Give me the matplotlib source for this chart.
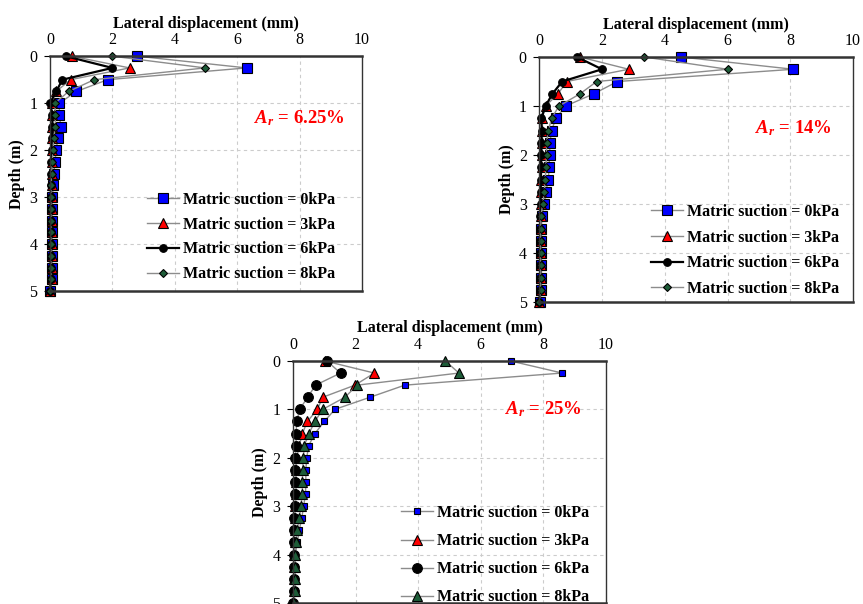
import matplotlib
matplotlib.use("Agg")
import matplotlib.pyplot as plt

plt.rcParams["font.family"] = ["Liberation Serif", "DejaVu Serif"]
plt.rcParams["mathtext.fontset"] = "custom"
plt.rcParams["mathtext.it"] = "Liberation Serif:italic:bold"
plt.rcParams["mathtext.rm"] = "Liberation Serif:bold"

# depth below surface (m)
depth = [0, 0.25, 0.5, 0.75, 1.0, 1.25, 1.5, 1.75, 2.0, 2.25, 2.5,
         2.75, 3.0, 3.25, 3.5, 3.75, 4.0, 4.25, 4.5, 4.75, 5.0]

labels = ["Matric suction = 0kPa", "Matric suction = 3kPa",
          "Matric suction = 6kPa", "Matric suction = 8kPa"]

# Ar = 6.25 %
ar625_0 = [2.8, 6.3, 1.85, 0.85, 0.3, 0.3, 0.35, 0.25, 0.2, 0.16, 0.12,
           0.1, 0.08, 0.07, 0.07, 0.07, 0.07, 0.07, 0.07, 0.07, 0.0]
ar625_3 = [0.7, 2.55, 0.66, 0.2, 0.05, 0.05, 0.05, 0.05, 0.05, 0.05, 0.05,
           0.05, 0.05, 0.05, 0.05, 0.05, 0.05, 0.05, 0.05, 0.05, 0.0]
ar625_6 = [0.5, 2.0, 0.4, 0.2, 0.0, 0.08, 0.08, 0.06, 0.05, 0.04, 0.03,
           0.03, 0.03, 0.02, 0.02, 0.02, 0.02, 0.02, 0.02, 0.02, 0.0]
ar625_8 = [2.0, 4.97, 1.42, 0.6, 0.16, 0.17, 0.17, 0.12, 0.1, 0.07, 0.05,
           0.04, 0.03, 0.03, 0.03, 0.03, 0.03, 0.03, 0.03, 0.03, 0.0]

# Ar = 14 %
ar14_0 = [4.52, 8.1, 2.49, 1.74, 0.84, 0.53, 0.39, 0.34, 0.33, 0.31, 0.29,
          0.21, 0.16, 0.08, 0.07, 0.07, 0.07, 0.07, 0.07, 0.07, 0.02]
ar14_3 = [1.3, 2.85, 0.87, 0.6, 0.2, 0.1, 0.1, 0.1, 0.08, 0.08, 0.07,
          0.06, 0.05, 0.04, 0.04, 0.04, 0.04, 0.04, 0.04, 0.04, 0.0]
ar14_6 = [1.2, 2.0, 0.73, 0.42, 0.2, 0.06, 0.08, 0.06, 0.06, 0.05, 0.05,
          0.04, 0.04, 0.03, 0.03, 0.03, 0.03, 0.03, 0.03, 0.03, 0.0]
ar14_8 = [3.35, 6.0, 1.83, 1.3, 0.63, 0.39, 0.29, 0.23, 0.23, 0.21, 0.19,
          0.16, 0.11, 0.05, 0.04, 0.04, 0.04, 0.04, 0.04, 0.04, 0.0]

# Ar = 25 %
ar25_0 = [6.95, 8.6, 3.57, 2.46, 1.34, 1.0, 0.7, 0.5, 0.44, 0.41, 0.41,
          0.4, 0.34, 0.28, 0.2, 0.14, 0.07, 0.07, 0.06, 0.06, 0.0]
ar25_3 = [1.02, 2.6, 1.98, 0.95, 0.78, 0.46, 0.3, 0.2, 0.12, 0.1, 0.1,
          0.1, 0.08, 0.06, 0.05, 0.05, 0.04, 0.04, 0.04, 0.04, 0.0]
ar25_6 = [1.08, 1.52, 0.72, 0.47, 0.21, 0.12, 0.1, 0.1, 0.08, 0.07, 0.07,
          0.07, 0.07, 0.03, 0.03, 0.03, 0.03, 0.03, 0.03, 0.03, 0.0]
ar25_8 = [4.87, 5.3, 2.05, 1.66, 0.95, 0.7, 0.51, 0.36, 0.33, 0.31, 0.3,
          0.3, 0.25, 0.2, 0.13, 0.1, 0.07, 0.07, 0.07, 0.07, 0.03]

GRAY = "#8c8c8c"
GREEN = "#1d5c38"

# marker, face colour, size, line colour, line width
top_styles = [("s", "#0000ff", 7, GRAY, 1.0),
              ("^", "#ff0000", 6.5, GRAY, 1.0),
              ("o", "black", 5.5, "black", 1.6),
              ("D", GREEN, 4.5, GRAY, 1.0)]
bottom_styles = [("s", "#0000ff", 5, GRAY, 1.0),
                 ("^", "#ff0000", 7, GRAY, 1.0),
                 ("o", "black", 7, GRAY, 1.0),
                 ("^", GREEN, 7, GRAY, 1.0)]


def draw_panel(ax, series, styles, ar_text, ar_xy, leg_xy, leg_space):
    for vals, lab, (mk, fc, ms, lc, lw) in zip(series, labels, styles):
        ax.plot(vals, depth, color=lc, lw=lw, marker=mk, ms=ms,
                mfc=fc, mec="black", mew=0.8, label=lab, clip_on=False)
    ax.set_xlim(0, 10)
    ax.set_ylim(5, 0)
    ax.set_xticks([0, 2, 4, 6, 8, 10])
    ax.set_yticks([0, 1, 2, 3, 4, 5])
    ax.xaxis.tick_top()
    ax.xaxis.set_label_position("top")
    ax.tick_params(axis="x", length=0, pad=6, labelsize=11.5)
    ax.tick_params(axis="y", length=4, pad=5, labelsize=11.5)
    ax.set_xlabel("Lateral displacement (mm)", fontsize=11.5,
                  fontweight="bold", labelpad=3)
    ax.set_ylabel("Depth (m)", fontsize=11.5, fontweight="bold", labelpad=3)
    for x in [2, 4, 6, 8]:
        ax.axvline(x, color="#cccccc", lw=0.8, ls=(0, (3, 3)), zorder=0)
    for y in [1, 2, 3, 4]:
        ax.axhline(y, color="#cccccc", lw=0.8, ls=(0, (3, 3)), zorder=0)
    for side in ["top", "bottom"]:
        ax.spines[side].set_linewidth(1.8)
        ax.spines[side].set_color("#333333")
    for side in ["left", "right"]:
        ax.spines[side].set_linewidth(1.0)
        ax.spines[side].set_color("#333333")
    ax.text(ar_xy[0], ar_xy[1], ar_text, transform=ax.transAxes, color="#ff0000",
            fontsize=13.5, fontweight="bold", ha="center", va="center")
    ax.legend(loc="upper left", bbox_to_anchor=leg_xy, frameon=False,
              prop={"size": 11.5, "weight": "bold"}, borderpad=0,
              borderaxespad=0, handlelength=2.0, handletextpad=0.25,
              labelspacing=leg_space)


fig = plt.figure(figsize=(8.63, 6.04), dpi=100)

ax1 = fig.add_axes([0.0579, 0.518, 0.3615, 0.389])
draw_panel(ax1, [ar625_0, ar625_3, ar625_6, ar625_8], top_styles,
           r"$A_r$ = 6.25%", (0.8, 0.735), (0.31, 0.423), 0.55)

ax2 = fig.add_axes([0.6249, 0.5, 0.3635, 0.4056])
draw_panel(ax2, [ar14_0, ar14_3, ar14_6, ar14_8], top_styles,
           r"$A_r$ = 14%", (0.81, 0.71), (0.355, 0.40), 0.6)

ax3 = fig.add_axes([0.3395, 0.0017, 0.3627, 0.4007])
draw_panel(ax3, [ar25_0, ar25_3, ar25_6, ar25_8], bottom_styles,
           r"$A_r$ = 25%", (0.8, 0.8), (0.345, 0.405), 0.76)

fig.savefig("out.png", dpi=100)
